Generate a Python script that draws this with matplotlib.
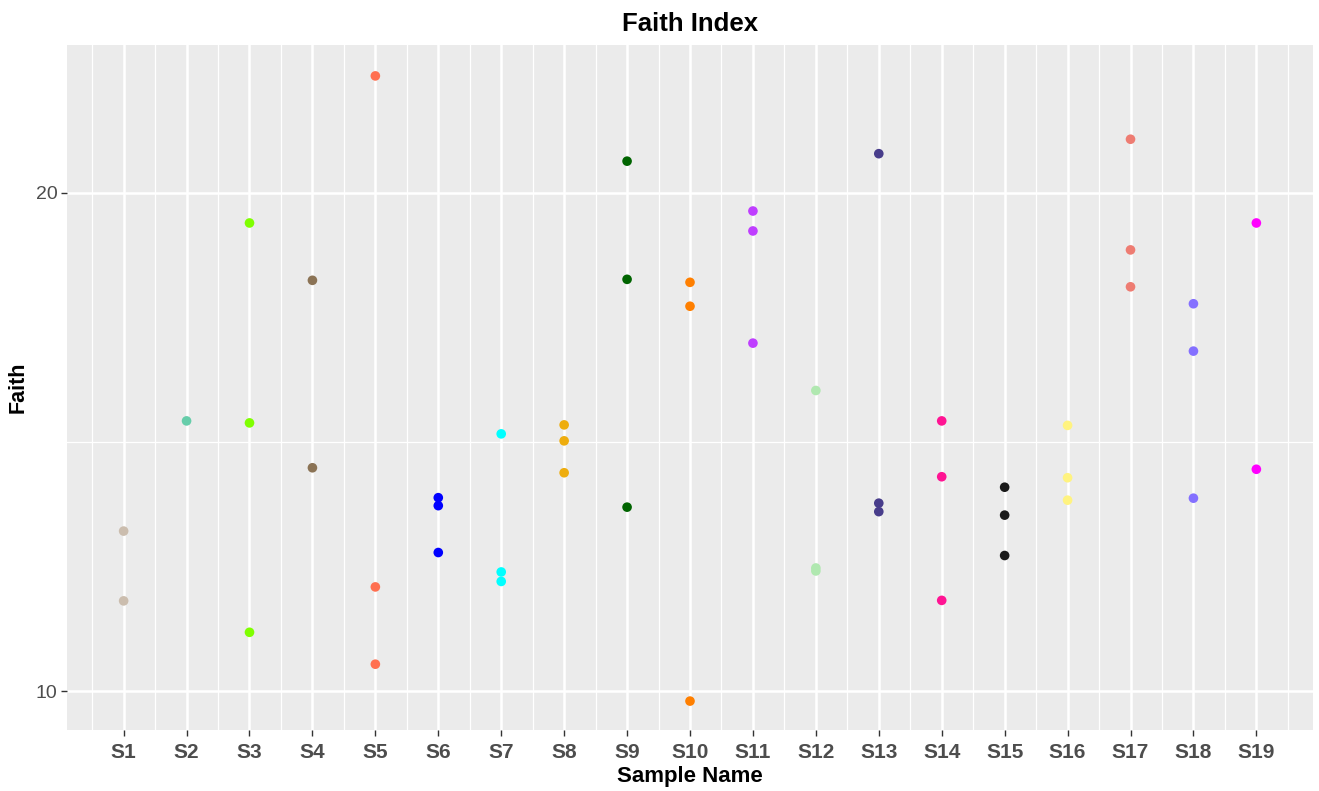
import numpy as np
import matplotlib
matplotlib.use("Agg")
import matplotlib.pyplot as plt
from matplotlib.ticker import FixedLocator

# data
sample_names = ["S%d" % i for i in range(1, 20)]
faith_values = [
    [13.21, 11.81],
    [15.42],
    [19.39, 15.38, 11.18],
    [18.24, 14.48],
    [22.34, 12.09, 10.54],
    [13.88, 13.72, 12.78],
    [15.16, 12.39, 12.20],
    [15.34, 15.02, 14.38],
    [20.63, 18.26, 13.69],
    [18.20, 17.72, 9.80],
    [19.63, 19.23, 16.98],
    [16.03, 12.47, 12.41],
    [20.78, 13.77, 13.60],
    [15.42, 14.30, 11.82],
    [14.09, 13.53, 12.72],
    [15.33, 14.28, 13.83],
    [21.07, 18.85, 18.11],
    [17.77, 16.82, 13.87],
    [19.39, 14.45],
]
point_colors = [
    "#CBBDAE", "#66CDAA", "#7FFF00", "#8B7355", "#FF6F50", "#0000FF",
    "#00FFFF", "#EEAD0E", "#006400", "#FF7F00", "#BF3EFF", "#B0E8B0",
    "#483D8B", "#FF1493", "#1A1A1A", "#FFF380", "#EE7C72", "#8470FF",
    "#FF00FF",
]
y_ticks = [10, 20]

plt.rcParams["font.family"] = ["Liberation Sans", "DejaVu Sans"]

fig = plt.figure(figsize=(13.19, 7.91), dpi=100)
ax = fig.add_axes([67 / 1319, 1 - 730 / 791, (1313 - 67) / 1319, (730 - 45) / 791])
ax.set_facecolor("#EBEBEB")

for name, vals, col in zip(sample_names, faith_values, point_colors):
    ax.scatter([name] * len(vals), vals, s=48, c=col, edgecolors="none", zorder=3)

n = len(sample_names)
ax.set_xlim(-0.9, n - 1 + 0.9)
ax.set_ylim(9.22, 22.96)
ax.set_yticks(y_ticks)
ax.xaxis.set_minor_locator(FixedLocator(np.arange(-0.5, n, 1.0)))
ax.yaxis.set_minor_locator(FixedLocator([15]))

ax.grid(which="major", color="white", linewidth=1.8, zorder=0)
ax.grid(which="minor", color="white", linewidth=0.9, zorder=0)
ax.set_axisbelow(True)
for sp in ax.spines.values():
    sp.set_visible(False)

ax.tick_params(which="major", length=4, width=1, color="#333333", pad=3)
ax.tick_params(which="minor", length=0)
ax.tick_params(axis="x", labelsize=15, labelcolor="#4D4D4D", pad=5)
ax.tick_params(axis="y", labelsize=14, labelcolor="#4D4D4D")
for lab in ax.get_xticklabels():
    lab.set_fontweight("bold")

ax.set_title("Faith Index", fontsize=18.5, fontweight="bold", pad=10)
ax.set_xlabel("Sample Name", fontsize=16, fontweight="bold")
ax.set_ylabel("Faith", fontsize=15.5, fontweight="bold")
ax.xaxis.set_label_coords(0.5, -0.053)
ax.yaxis.set_label_coords(-0.031, 0.5)

fig.savefig("out.png", dpi=100)
